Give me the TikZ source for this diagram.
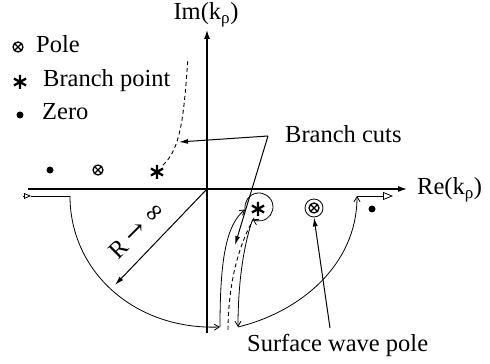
\documentclass[tikz,border=0pt]{standalone}
\usepackage{fontspec}
\setmainfont{Liberation Serif}
\newfontfamily\tms{Liberation Serif}
\newfontfamily\djv{DejaVu Serif}
\usetikzlibrary{arrows.meta}
\begin{document}
\begin{tikzpicture}[x=1pt,y=1pt,
  lbl/.style={font=\tms\fontsize{24.5}{28}\selectfont, inner sep=0pt},
  axis/.style={line width=1.2pt,-{Latex[length=9pt,width=6pt]}},
  cont/.style={line width=0.8pt},
  carr/.style={cont,-{Straight Barb[length=5pt,width=6pt]}},
  ptr/.style={line width=1pt,-{Latex[length=9pt,width=5pt]}},
  cut/.style={line width=0.9pt,dash pattern=on 4pt off 3pt},
  pole/.pic={\draw[line width=1.3pt] (0,0) circle (5) (-3.5,-3.5)--(3.5,3.5) (-3.5,3.5)--(3.5,-3.5);},
  bpt/.pic={\draw[line width=2.3pt] (90:7)--(-90:7) (30:7)--(210:7) (150:7)--(-30:7);},
  zro/.style={circle,fill,inner sep=0pt,minimum size=7pt}
]
\useasboundingbox (0,0) rectangle (490,364);
% axes
\coordinate (O) at (207,175);
\coordinate (xs) at (28,175); \coordinate (xe) at (407,175);
\coordinate (ys) at (207,31); \coordinate (ye) at (207,334);
\draw[axis] (xs) -- (xe);
\draw[axis] (ys) -- (ye);
\node[lbl,anchor=base] (im) at (206,344) {Im(k\textsubscript{ρ})};
\node[lbl,anchor=base west] (re) at (417,169) {Re(k\textsubscript{ρ})};
% legend
\pic at (18,317) {pole};
\node[lbl,anchor=base west] (lp) at (36,311) {Pole};
\pic at (20,282) {bpt};
\node[lbl,anchor=base west] (lb) at (43,277) {Branch point};
\node[zro] (lz0) at (20,249) {};
\node[lbl,anchor=base west] (lz) at (42,244) {Zero};
% upper row
\node[zro] (z1) at (50,194) {};
\pic at (98,194) {pole};
\pic at (157,192) {bpt};
\coordinate (bp1) at (163,199);
\coordinate (c1e) at (188,306);
\draw[cut] (bp1) .. controls (182,216) and (184,254) .. (c1e);
% branch cuts label
\node[lbl,anchor=base west] (bc) at (285,221) {Branch cuts};
\coordinate (bcc) at (268,228);
\coordinate (t1) at (179,222);
\coordinate (t2) at (235,119);
\draw[ptr] (bcc) -- (t1);
\draw[ptr] (bcc) -- (t2);
% radius
\coordinate (Rt) at (115,79);
\draw[ptr] (O) -- (Rt);
\node[lbl,rotate=45] (R) at (137,134) {R {\djv →} {\djv ∞}};
% contour
\coordinate (a0) at (23,168);
\coordinate (a1) at (31,168);
\coordinate (a2) at (70,168);
\coordinate (a3) at (220,37);
\coordinate (a4) at (245.2,154.6);
\coordinate (a5) at (252.6,144.5);
\coordinate (a6) at (238,37);
\coordinate (a7) at (357,168);
\coordinate (a8) at (393,168);
\draw[cont,-{Triangle[open,length=7pt,width=6pt]}] (a0) -- (a1);
\draw[cont] (a1) -- (a2);
\draw[carr] (a2) .. controls (70,92) and (135,34) .. (a3);
\draw[carr] (a3) .. controls (220,104) and (226,139) .. (a4);
\draw[carr] (a4) arc[start angle=190, end angle=-117, radius=14];
\draw[carr] (a5) .. controls (242,114) and (238,74) .. (a6);
\draw[carr] (a6) .. controls (300,52) and (357,99) .. (a7);
\draw[cont,-{Triangle[open,length=10pt,width=8pt]}] (a7) -- (a8);
% lower branch cut
\coordinate (bp2) at (254,146);
\coordinate (c2e) at (228,32);
\draw[cut] (bp2) .. controls (236,114) and (228,74) .. (c2e);
\pic at (258,155) {bpt};
% surface wave pole
\pic at (314,156) {pole};
\node[circle,draw,line width=0.8pt,minimum size=18pt,inner sep=0pt] (swp) at (314,156) {};
\node[lbl,anchor=base west] (sw) at (247,12) {Surface wave pole};
\coordinate (swa) at (330,36);
\draw[ptr] (swa) -- (swp.south);
\node[zro] (z2) at (372,155) {};
\end{tikzpicture}
\end{document}
